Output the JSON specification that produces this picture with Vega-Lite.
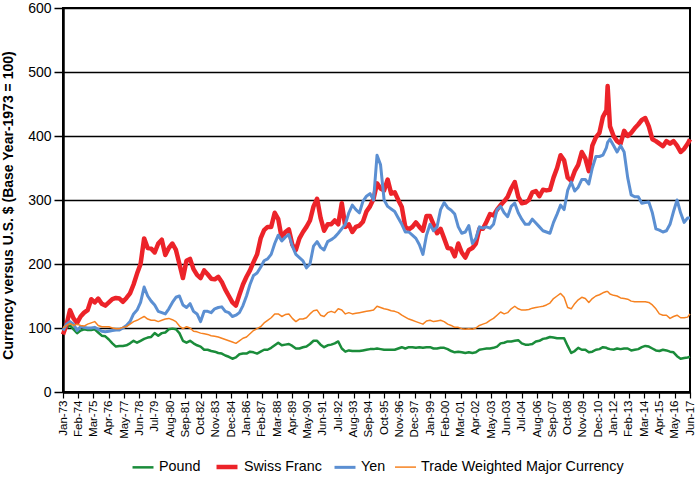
{
  "$schema": "https://vega.github.io/schema/vega-lite/v6.json",
  "width": 627,
  "height": 384,
  "autosize": {"type": "none"},
  "padding": {"left": 63, "top": 8, "right": 6, "bottom": 96},
  "background": "white",
  "datasets": {
    "names": [
      {"k": "P", "name": "Pound"},
      {"k": "S", "name": "Swiss Franc"},
      {"k": "Y", "name": "Yen"},
      {"k": "T", "name": "Trade Weighted Major Currency"}
    ]
  },
  "data": {"values": [
    {"d":"1973-01-01","P":98,"S":90,"Y":96,"T":100},{"d":"1973-04-01","P":100,"S":105,"Y":106,"T":104},{"d":"1973-07-01","P":104,"S":128,"Y":110,"T":107},{"d":"1973-10-01","P":98,"S":115,"Y":106,"T":104},
    {"d":"1974-01-01","P":92,"S":108,"Y":96,"T":106},{"d":"1974-04-01","P":96,"S":118,"Y":102,"T":104},{"d":"1974-07-01","P":98,"S":124,"Y":101,"T":103},{"d":"1974-10-01","P":97,"S":128,"Y":100,"T":106},
    {"d":"1975-01-01","P":97,"S":145,"Y":100,"T":108},{"d":"1975-04-01","P":98,"S":140,"Y":101,"T":110},{"d":"1975-07-01","P":93,"S":146,"Y":98,"T":104},{"d":"1975-10-01","P":88,"S":138,"Y":95,"T":102},
    {"d":"1976-01-01","P":87,"S":135,"Y":94,"T":102},{"d":"1976-04-01","P":82,"S":140,"Y":95,"T":102},{"d":"1976-07-01","P":76,"S":145,"Y":96,"T":100},{"d":"1976-10-01","P":71,"S":147,"Y":97,"T":99},
    {"d":"1977-01-01","P":72,"S":146,"Y":97,"T":99},{"d":"1977-04-01","P":72,"S":141,"Y":100,"T":101},{"d":"1977-07-01","P":73,"S":147,"Y":104,"T":102},{"d":"1977-10-01","P":76,"S":154,"Y":110,"T":106},
    {"d":"1978-01-01","P":80,"S":168,"Y":122,"T":110},{"d":"1978-04-01","P":77,"S":185,"Y":128,"T":112},{"d":"1978-07-01","P":80,"S":200,"Y":140,"T":115},{"d":"1978-10-01","P":83,"S":240,"Y":164,"T":118},
    {"d":"1979-01-01","P":85,"S":225,"Y":150,"T":114},{"d":"1979-04-01","P":86,"S":224,"Y":142,"T":112},{"d":"1979-07-01","P":92,"S":218,"Y":136,"T":112},{"d":"1979-10-01","P":88,"S":232,"Y":126,"T":110},
    {"d":"1980-01-01","P":92,"S":238,"Y":124,"T":112},{"d":"1980-04-01","P":93,"S":214,"Y":122,"T":114},{"d":"1980-07-01","P":98,"S":225,"Y":130,"T":115},{"d":"1980-10-01","P":99,"S":232,"Y":140,"T":113},
    {"d":"1981-01-01","P":98,"S":222,"Y":148,"T":110},{"d":"1981-04-01","P":92,"S":200,"Y":150,"T":103},{"d":"1981-07-01","P":80,"S":178,"Y":136,"T":99},{"d":"1981-10-01","P":77,"S":205,"Y":132,"T":102},
    {"d":"1982-01-01","P":80,"S":208,"Y":138,"T":100},{"d":"1982-04-01","P":76,"S":192,"Y":126,"T":95},{"d":"1982-07-01","P":73,"S":183,"Y":122,"T":94},{"d":"1982-10-01","P":71,"S":178,"Y":110,"T":92},
    {"d":"1983-01-01","P":66,"S":190,"Y":126,"T":91},{"d":"1983-04-01","P":66,"S":184,"Y":126,"T":90},{"d":"1983-07-01","P":64,"S":177,"Y":124,"T":88},{"d":"1983-10-01","P":63,"S":176,"Y":130,"T":87},
    {"d":"1984-01-01","P":61,"S":180,"Y":132,"T":86},{"d":"1984-04-01","P":60,"S":172,"Y":133,"T":84},{"d":"1984-07-01","P":57,"S":160,"Y":126,"T":82},{"d":"1984-10-01","P":55,"S":150,"Y":124,"T":80},
    {"d":"1985-01-01","P":52,"S":140,"Y":118,"T":78},{"d":"1985-04-01","P":54,"S":135,"Y":120,"T":76},{"d":"1985-07-01","P":59,"S":152,"Y":124,"T":80},{"d":"1985-10-01","P":60,"S":168,"Y":135,"T":84},
    {"d":"1986-01-01","P":60,"S":180,"Y":150,"T":86},{"d":"1986-04-01","P":63,"S":190,"Y":168,"T":91},{"d":"1986-07-01","P":62,"S":203,"Y":182,"T":96},{"d":"1986-10-01","P":60,"S":215,"Y":186,"T":99},
    {"d":"1987-01-01","P":63,"S":240,"Y":195,"T":102},{"d":"1987-04-01","P":66,"S":253,"Y":205,"T":108},{"d":"1987-07-01","P":66,"S":258,"Y":208,"T":112},{"d":"1987-10-01","P":69,"S":258,"Y":215,"T":116},
    {"d":"1988-01-01","P":73,"S":280,"Y":232,"T":122},{"d":"1988-04-01","P":77,"S":270,"Y":245,"T":122},{"d":"1988-07-01","P":73,"S":240,"Y":236,"T":118},{"d":"1988-10-01","P":74,"S":250,"Y":242,"T":121},
    {"d":"1989-01-01","P":75,"S":254,"Y":246,"T":122},{"d":"1989-04-01","P":72,"S":230,"Y":228,"T":115},{"d":"1989-07-01","P":68,"S":222,"Y":215,"T":110},{"d":"1989-10-01","P":68,"S":240,"Y":210,"T":114},
    {"d":"1990-01-01","P":70,"S":250,"Y":205,"T":114},{"d":"1990-04-01","P":71,"S":258,"Y":194,"T":116},{"d":"1990-07-01","P":75,"S":268,"Y":200,"T":122},{"d":"1990-10-01","P":80,"S":290,"Y":228,"T":127},
    {"d":"1991-01-01","P":80,"S":302,"Y":235,"T":128},{"d":"1991-04-01","P":74,"S":272,"Y":226,"T":120},{"d":"1991-07-01","P":70,"S":252,"Y":222,"T":118},{"d":"1991-10-01","P":73,"S":262,"Y":235,"T":124},
    {"d":"1992-01-01","P":74,"S":262,"Y":238,"T":126},{"d":"1992-04-01","P":76,"S":268,"Y":242,"T":124},{"d":"1992-07-01","P":79,"S":262,"Y":248,"T":130},{"d":"1992-10-01","P":68,"S":295,"Y":255,"T":128},
    {"d":"1993-01-01","P":63,"S":258,"Y":262,"T":122},{"d":"1993-04-01","P":65,"S":262,"Y":280,"T":124},{"d":"1993-07-01","P":64,"S":250,"Y":292,"T":122},{"d":"1993-10-01","P":64,"S":258,"Y":285,"T":123},
    {"d":"1994-01-01","P":64,"S":260,"Y":280,"T":124},{"d":"1994-04-01","P":65,"S":266,"Y":298,"T":125},{"d":"1994-07-01","P":66,"S":282,"Y":306,"T":126},{"d":"1994-10-01","P":67,"S":290,"Y":310,"T":127},
    {"d":"1995-01-01","P":67,"S":302,"Y":300,"T":128},{"d":"1995-04-01","P":68,"S":326,"Y":370,"T":134},{"d":"1995-07-01","P":67,"S":318,"Y":355,"T":132},{"d":"1995-10-01","P":66,"S":315,"Y":300,"T":130},
    {"d":"1996-01-01","P":66,"S":332,"Y":290,"T":129},{"d":"1996-04-01","P":66,"S":310,"Y":286,"T":127},{"d":"1996-07-01","P":66,"S":312,"Y":282,"T":126},{"d":"1996-10-01","P":68,"S":300,"Y":272,"T":124},
    {"d":"1997-01-01","P":70,"S":289,"Y":262,"T":120},{"d":"1997-04-01","P":68,"S":258,"Y":250,"T":117},{"d":"1997-07-01","P":70,"S":254,"Y":250,"T":114},{"d":"1997-10-01","P":70,"S":258,"Y":245,"T":112},
    {"d":"1998-01-01","P":69,"S":265,"Y":240,"T":110},{"d":"1998-04-01","P":70,"S":258,"Y":230,"T":108},{"d":"1998-07-01","P":69,"S":252,"Y":215,"T":106},{"d":"1998-10-01","P":70,"S":275,"Y":245,"T":111},
    {"d":"1999-01-01","P":70,"S":275,"Y":262,"T":112},{"d":"1999-04-01","P":68,"S":262,"Y":252,"T":110},{"d":"1999-07-01","P":68,"S":248,"Y":258,"T":111},{"d":"1999-10-01","P":69,"S":255,"Y":285,"T":112},
    {"d":"2000-01-01","P":69,"S":240,"Y":296,"T":110},{"d":"2000-04-01","P":67,"S":225,"Y":288,"T":106},{"d":"2000-07-01","P":64,"S":224,"Y":284,"T":104},{"d":"2000-10-01","P":62,"S":212,"Y":278,"T":101},
    {"d":"2001-01-01","P":63,"S":232,"Y":258,"T":101},{"d":"2001-04-01","P":62,"S":218,"Y":248,"T":99},{"d":"2001-07-01","P":61,"S":210,"Y":250,"T":98},{"d":"2001-10-01","P":62,"S":222,"Y":260,"T":99},
    {"d":"2002-01-01","P":61,"S":225,"Y":232,"T":98},{"d":"2002-04-01","P":62,"S":232,"Y":240,"T":100},{"d":"2002-07-01","P":66,"S":255,"Y":258,"T":104},{"d":"2002-10-01","P":67,"S":255,"Y":256,"T":106},
    {"d":"2003-01-01","P":68,"S":266,"Y":258,"T":108},{"d":"2003-04-01","P":68,"S":278,"Y":256,"T":112},{"d":"2003-07-01","P":69,"S":276,"Y":262,"T":115},{"d":"2003-10-01","P":71,"S":285,"Y":285,"T":120},
    {"d":"2004-01-01","P":76,"S":292,"Y":290,"T":125},{"d":"2004-04-01","P":77,"S":298,"Y":280,"T":122},{"d":"2004-07-01","P":79,"S":305,"Y":274,"T":124},{"d":"2004-10-01","P":79,"S":318,"Y":290,"T":130},
    {"d":"2005-01-01","P":80,"S":328,"Y":295,"T":134},{"d":"2005-04-01","P":81,"S":305,"Y":280,"T":130},{"d":"2005-07-01","P":76,"S":295,"Y":270,"T":128},{"d":"2005-10-01","P":74,"S":296,"Y":262,"T":128},
    {"d":"2006-01-01","P":74,"S":300,"Y":262,"T":129},{"d":"2006-04-01","P":75,"S":312,"Y":270,"T":131},{"d":"2006-07-01","P":79,"S":314,"Y":264,"T":132},{"d":"2006-10-01","P":80,"S":306,"Y":258,"T":133},
    {"d":"2007-01-01","P":83,"S":316,"Y":252,"T":134},{"d":"2007-04-01","P":84,"S":315,"Y":250,"T":136},{"d":"2007-07-01","P":86,"S":316,"Y":248,"T":139},{"d":"2007-10-01","P":85,"S":335,"Y":265,"T":146},
    {"d":"2008-01-01","P":84,"S":350,"Y":278,"T":150},{"d":"2008-04-01","P":84,"S":370,"Y":292,"T":154},{"d":"2008-07-01","P":84,"S":362,"Y":285,"T":148},{"d":"2008-10-01","P":72,"S":335,"Y":315,"T":132},
    {"d":"2009-01-01","P":61,"S":330,"Y":328,"T":130},{"d":"2009-04-01","P":64,"S":345,"Y":314,"T":138},{"d":"2009-07-01","P":69,"S":355,"Y":320,"T":144},{"d":"2009-10-01","P":66,"S":375,"Y":332,"T":148},
    {"d":"2010-01-01","P":66,"S":365,"Y":332,"T":146},{"d":"2010-04-01","P":62,"S":345,"Y":325,"T":140},{"d":"2010-07-01","P":63,"S":385,"Y":350,"T":146},{"d":"2010-10-01","P":66,"S":398,"Y":368,"T":150},
    {"d":"2011-01-01","P":67,"S":405,"Y":368,"T":152},{"d":"2011-04-01","P":70,"S":430,"Y":370,"T":155},{"d":"2011-07-01","P":69,"S":440,"Y":382,"T":157},{"d":"2011-08-01","P":68,"S":478,"Y":390,"T":157},{"d":"2011-10-01","P":67,"S":415,"Y":395,"T":153},
    {"d":"2012-01-01","P":66,"S":400,"Y":385,"T":151},{"d":"2012-04-01","P":68,"S":392,"Y":375,"T":150},{"d":"2012-07-01","P":67,"S":388,"Y":385,"T":147},{"d":"2012-10-01","P":68,"S":408,"Y":375,"T":146},
    {"d":"2013-01-01","P":68,"S":400,"Y":335,"T":145},{"d":"2013-04-01","P":65,"S":405,"Y":308,"T":142},{"d":"2013-07-01","P":66,"S":412,"Y":305,"T":141},{"d":"2013-10-01","P":67,"S":418,"Y":305,"T":141},
    {"d":"2014-01-01","P":70,"S":425,"Y":295,"T":141},{"d":"2014-04-01","P":72,"S":428,"Y":296,"T":141},{"d":"2014-07-01","P":71,"S":415,"Y":297,"T":140},{"d":"2014-10-01","P":68,"S":395,"Y":280,"T":136},
    {"d":"2015-01-01","P":65,"S":392,"Y":255,"T":130},{"d":"2015-04-01","P":64,"S":388,"Y":253,"T":122},{"d":"2015-07-01","P":66,"S":384,"Y":250,"T":120},{"d":"2015-10-01","P":65,"S":392,"Y":252,"T":120},
    {"d":"2016-01-01","P":63,"S":388,"Y":262,"T":115},{"d":"2016-04-01","P":62,"S":392,"Y":282,"T":118},{"d":"2016-07-01","P":56,"S":385,"Y":300,"T":120},{"d":"2016-10-01","P":52,"S":375,"Y":280,"T":116},
    {"d":"2017-01-01","P":53,"S":380,"Y":265,"T":116},{"d":"2017-04-01","P":54,"S":388,"Y":272,"T":117},{"d":"2017-06-01","P":55,"S":395,"Y":272,"T":122}
  ]},
  "transform": [
    {"fold": ["P", "S", "Y", "T"], "as": ["k", "value"]},
    {"lookup": "k", "from": {"data": {"name": "names"}, "key": "k", "fields": ["name"]}}
  ],
  "mark": {"type": "line", "strokeJoin": "round"},
  "encoding": {
    "x": {
      "field": "d", "type": "temporal",
      "scale": {"type": "utc", "nice": false, "domain": [{"year": 1973, "month": 1, "date": 1, "utc": true}, {"year": 2017, "month": 6, "date": 1, "utc": true}]},
      "axis": {
        "title": null,
        "values": [
          {"year":1973,"month":1,"date":1,"utc":true},{"year":1974,"month":2,"date":1,"utc":true},{"year":1975,"month":3,"date":1,"utc":true},{"year":1976,"month":4,"date":1,"utc":true},
          {"year":1977,"month":5,"date":1,"utc":true},{"year":1978,"month":6,"date":1,"utc":true},{"year":1979,"month":7,"date":1,"utc":true},{"year":1980,"month":8,"date":1,"utc":true},
          {"year":1981,"month":9,"date":1,"utc":true},{"year":1982,"month":10,"date":1,"utc":true},{"year":1983,"month":11,"date":1,"utc":true},{"year":1984,"month":12,"date":1,"utc":true},
          {"year":1986,"month":1,"date":1,"utc":true},{"year":1987,"month":2,"date":1,"utc":true},{"year":1988,"month":3,"date":1,"utc":true},{"year":1989,"month":4,"date":1,"utc":true},
          {"year":1990,"month":5,"date":1,"utc":true},{"year":1991,"month":6,"date":1,"utc":true},{"year":1992,"month":7,"date":1,"utc":true},{"year":1993,"month":8,"date":1,"utc":true},
          {"year":1994,"month":9,"date":1,"utc":true},{"year":1995,"month":10,"date":1,"utc":true},{"year":1996,"month":11,"date":1,"utc":true},{"year":1997,"month":12,"date":1,"utc":true},
          {"year":1999,"month":1,"date":1,"utc":true},{"year":2000,"month":2,"date":1,"utc":true},{"year":2001,"month":3,"date":1,"utc":true},{"year":2002,"month":4,"date":1,"utc":true},
          {"year":2003,"month":5,"date":1,"utc":true},{"year":2004,"month":6,"date":1,"utc":true},{"year":2005,"month":7,"date":1,"utc":true},{"year":2006,"month":8,"date":1,"utc":true},
          {"year":2007,"month":9,"date":1,"utc":true},{"year":2008,"month":10,"date":1,"utc":true},{"year":2009,"month":11,"date":1,"utc":true},{"year":2010,"month":12,"date":1,"utc":true},
          {"year":2012,"month":1,"date":1,"utc":true},{"year":2013,"month":2,"date":1,"utc":true},{"year":2014,"month":3,"date":1,"utc":true},{"year":2015,"month":4,"date":1,"utc":true},
          {"year":2016,"month":5,"date":1,"utc":true},{"year":2017,"month":6,"date":1,"utc":true}
        ],
        "format": "%b-%y",
        "labelExpr": "datum.label == 'Jun-04' ? 'Jun-03' : (datum.label == 'Jul-05' ? 'Jul-04' : datum.label)",
        "labelAngle": -90, "labelAlign": "right", "labelBaseline": "middle",
        "labelFontSize": 11.5, "labelColor": "black", "labelPadding": 2,
        "labelOverlap": false, "labelFlush": false, "labelBound": false,
        "tickSize": 6, "tickColor": "black", "tickWidth": 1.2,
        "domainColor": "black", "domainWidth": 2.5, "grid": false
      }
    },
    "y": {
      "field": "value", "type": "quantitative",
      "scale": {"domain": [0, 600], "nice": false},
      "axis": {
        "values": [0, 100, 200, 300, 400, 500, 600],
        "title": "Currency versus U.S. $ (Base Year-1973 = 100)",
        "titleFontWeight": "bold", "titleFontSize": 14, "titleColor": "black",
        "titleAngle": -90, "titleBaseline": "alphabetic", "titleAlign": "center",
        "titleX": -50.5, "titleY": 197,
        "labelFontSize": 14, "labelColor": "black", "labelPadding": 3,
        "tickSize": 9, "tickColor": "black", "tickWidth": 1.5,
        "domainColor": "black", "domainWidth": 2.5,
        "grid": true, "gridColor": "black", "gridWidth": 1.6, "gridOpacity": 1
      }
    },
    "color": {
      "field": "name", "type": "nominal",
      "scale": {"domain": ["Pound", "Swiss Franc", "Yen", "Trade Weighted Major Currency"], "range": ["#1a8c3a", "#ec2329", "#5b8fd2", "#f68221"]},
      "legend": {
        "orient": "none", "legendX": 68, "legendY": 446, "direction": "horizontal", "title": null,
        "symbolType": "stroke", "symbolSize": 440, "labelFontSize": 14.3, "labelColor": "black",
        "labelOffset": 4, "columnPadding": 6, "padding": 0, "labelLimit": 300
      }
    },
    "strokeWidth": {
      "field": "name", "type": "nominal",
      "scale": {"type": "ordinal", "domain": ["Pound", "Swiss Franc", "Yen", "Trade Weighted Major Currency"], "range": [2.5, 4.5, 3, 1.5]},
      "legend": {
        "orient": "none", "legendX": 68, "legendY": 446, "direction": "horizontal", "title": null,
        "symbolType": "stroke", "symbolSize": 440, "labelFontSize": 14.3, "labelColor": "black",
        "labelOffset": 4, "columnPadding": 6, "padding": 0, "labelLimit": 300
      }
    }
  },
  "config": {
    "font": "Liberation Sans",
    "view": {"stroke": "black", "strokeWidth": 2}
  }
}
